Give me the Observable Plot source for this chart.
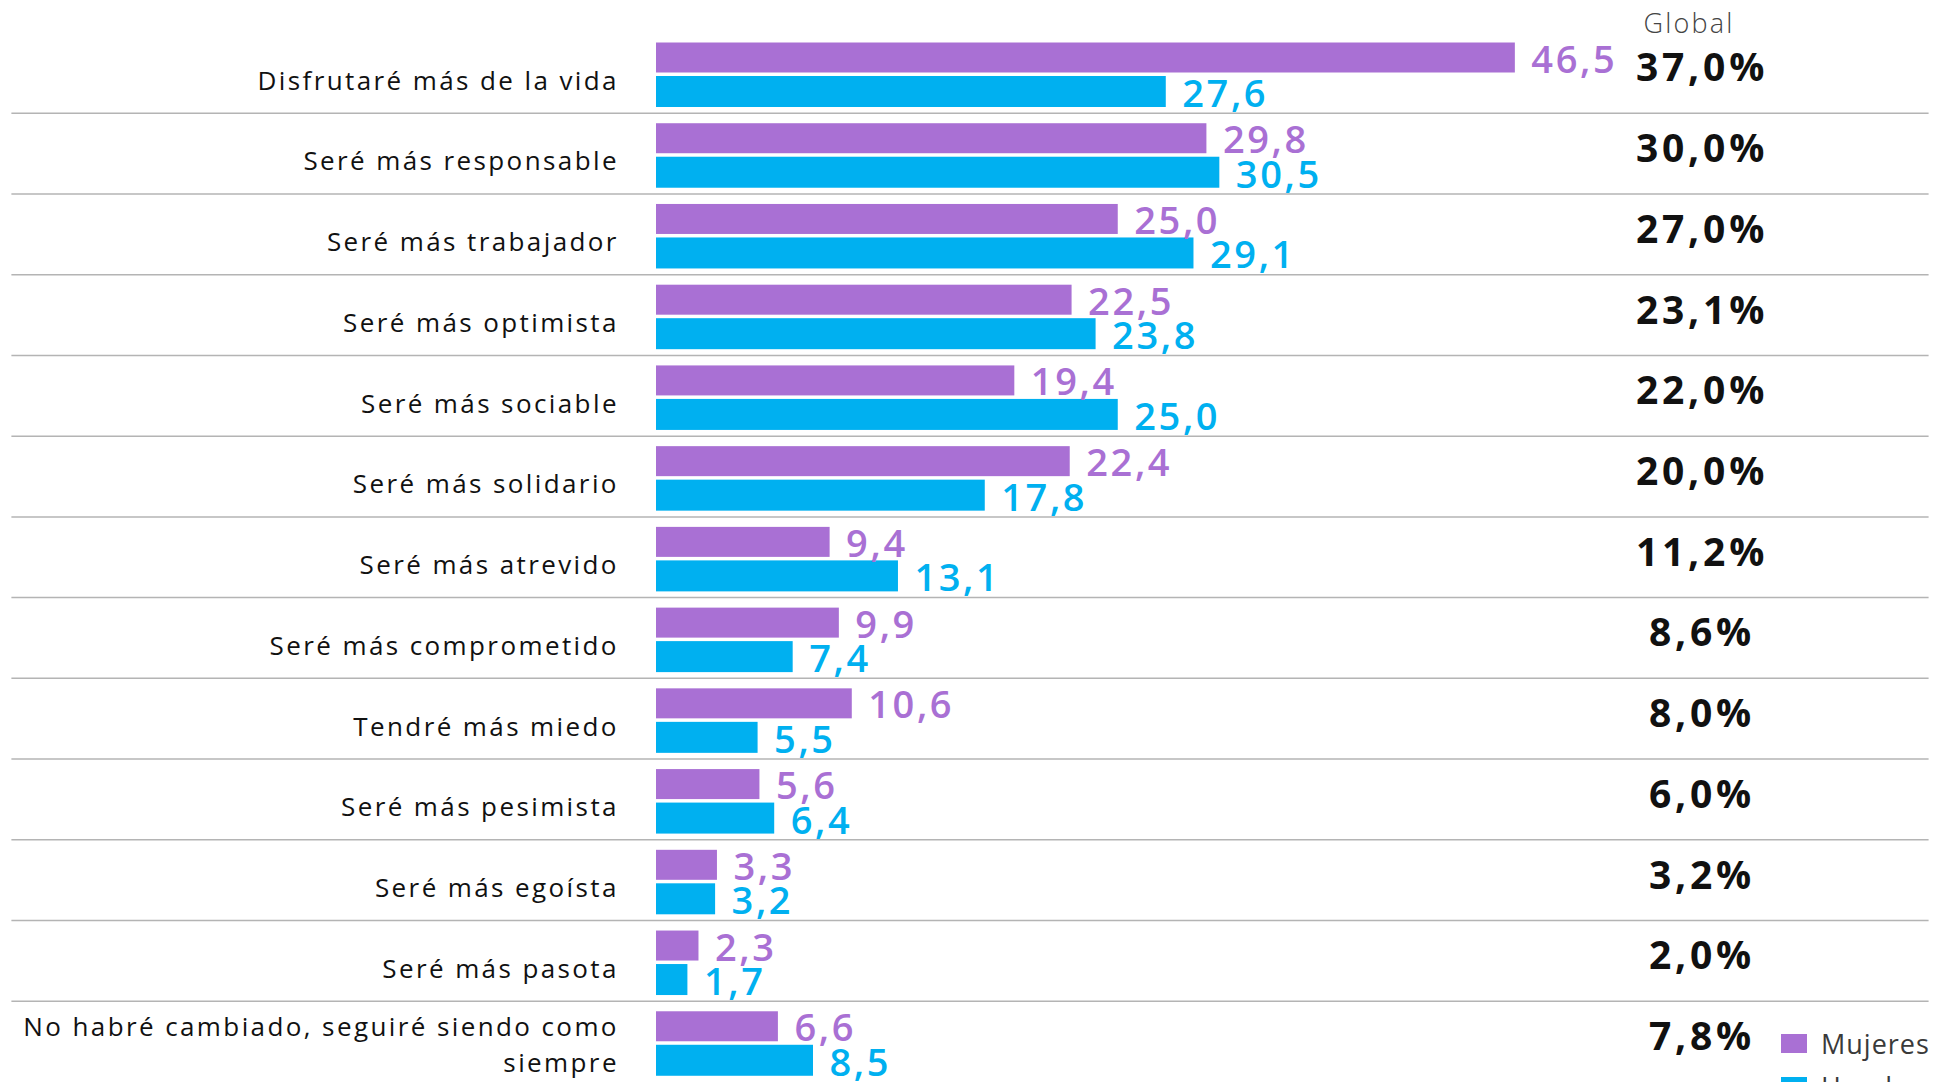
<!DOCTYPE html>
<html>
<head>
<meta charset="utf-8">
<script src="https://cdn.jsdelivr.net/npm/d3@7"></script>
<script src="https://cdn.jsdelivr.net/npm/@observablehq/plot@0.6"></script>
<style>
  html, body { margin: 0; padding: 0; background: #fff; overflow: hidden; }
  #wrap { position: relative; width: 1947px; height: 1082px; overflow: hidden; }
  #legend { position: absolute; left: 1781px; top: 1022px; font-family: "Open Sans", sans-serif; font-size: 27px; letter-spacing: 1px; color: #3a3a3a; }
  #legend .item { display: flex; align-items: center; height: 43px; }
  #legend .sw { width: 26px; height: 19px; margin-right: 14px; }
</style>
</head>
<body>
<div id="wrap">
  <div id="chart"></div>
  <div id="legend"></div>
</div>
<script>
const categories = [
  "Disfrutaré más de la vida",
  "Seré más responsable",
  "Seré más trabajador",
  "Seré más optimista",
  "Seré más sociable",
  "Seré más solidario",
  "Seré más atrevido",
  "Seré más comprometido",
  "Tendré más miedo",
  "Seré más pesimista",
  "Seré más egoísta",
  "Seré más pasota",
  "No habré cambiado, seguiré siendo como\nsiempre"
];
const mujeres = [46.5, 29.8, 25.0, 22.5, 19.4, 22.4, 9.4, 9.9, 10.6, 5.6, 3.3, 2.3, 6.6];
const hombres = [27.6, 30.5, 29.1, 23.8, 25.0, 17.8, 13.1, 7.4, 5.5, 6.4, 3.2, 1.7, 8.5];
const globalVals = [37.0, 30.0, 27.0, 23.1, 22.0, 20.0, 11.2, 8.6, 8.0, 6.0, 3.2, 2.0, 7.8];
const seriesNames = ["Mujeres", "Hombres"];

const PURPLE = "#a970d4";
const BLUE = "#00b0f0";
const colors = [PURPLE, BLUE];

const data = categories.map((c, i) => ({cat: c, mujeres: mujeres[i], hombres: hombres[i], global: globalVals[i]}));
const fmt = v => d3.format(".1f")(v).replace(".", ",");

const W = 1947, H = 1082;
const yTop = 32, yBottom = 1081.5;
const band = (yBottom - yTop) / categories.length;

const FONT = "'Open Sans', sans-serif";
// font sizes double as keys for per-mark letter spacing
const CAT_SIZE = 26, VAL_SIZE = 38, GLOBAL_SIZE = 39, HEAD_SIZE = 27;
const spacing = {[CAT_SIZE]: 2.4, [VAL_SIZE]: 2.6, [GLOBAL_SIZE]: 3.8, [HEAD_SIZE]: 2.2};

const chart = Plot.plot({
  width: W,
  height: H,
  marginLeft: 656,
  marginRight: 367.5,
  marginTop: yTop,
  marginBottom: 0,
  x: {domain: [0, 50], axis: null},
  y: {domain: categories, range: [yTop, yBottom], padding: 0, round: false, axis: null},
  marks: [
    Plot.ruleY(categories.slice(0, -1), {y: d => d, dy: band / 2, x1: -34.9, x2: 68.9, stroke: "#b4b4b4", strokeWidth: 1.5}),
    Plot.barX(data, {x: "mujeres", y: "cat", fill: PURPLE, insetTop: 10.5, insetBottom: band - 40.5}),
    Plot.barX(data, {x: "hombres", y: "cat", fill: BLUE, insetTop: 44, insetBottom: band - 75}),
    Plot.text(data.filter(d => !d.cat.includes("\n")), {y: "cat", text: "cat", frameAnchor: "left", dx: -37.6, dy: 8.5, textAnchor: "end", fontSize: CAT_SIZE, fill: "#111", fontFamily: FONT}),
    Plot.text(data.filter(d => d.cat.includes("\n")), {y: "cat", text: "cat", frameAnchor: "left", dx: -37.6, dy: 1, textAnchor: "end", fontSize: CAT_SIZE, lineHeight: 1.38, fill: "#111", fontFamily: FONT}),
    Plot.text(data, {x: "mujeres", y: "cat", text: d => fmt(d.mujeres), dx: 16, dy: -12.5, textAnchor: "start", fontSize: VAL_SIZE, fontWeight: 600, fill: PURPLE, fontFamily: FONT}),
    Plot.text(data, {x: "hombres", y: "cat", text: d => fmt(d.hombres), dx: 16, dy: 22, textAnchor: "start", fontSize: VAL_SIZE, fontWeight: 600, fill: BLUE, fontFamily: FONT}),
    Plot.text(data, {y: "cat", text: d => fmt(d.global) + "%", frameAnchor: "right", dx: 122, dy: -4, textAnchor: "middle", fontSize: GLOBAL_SIZE, fontWeight: 700, fill: "#111", fontFamily: FONT}),
    Plot.text(["Global"], {frameAnchor: "top-right", lineAnchor: "middle", dx: 109, dy: -8.5, textAnchor: "middle", fontSize: HEAD_SIZE, fontWeight: 300, fill: "#444", fontFamily: FONT})
  ]
});
chart.querySelectorAll("g[font-size]").forEach(g => {
  const s = spacing[g.getAttribute("font-size")];
  if (s) g.style.letterSpacing = s + "px";
});
document.getElementById("chart").appendChild(chart);

const legend = document.getElementById("legend");
seriesNames.forEach((name, i) => {
  const item = document.createElement("div");
  item.className = "item";
  const sw = document.createElement("span");
  sw.className = "sw";
  sw.style.background = colors[i];
  const label = document.createElement("span");
  label.textContent = name;
  item.appendChild(sw);
  item.appendChild(label);
  legend.appendChild(item);
});
</script>
</body>
</html>
